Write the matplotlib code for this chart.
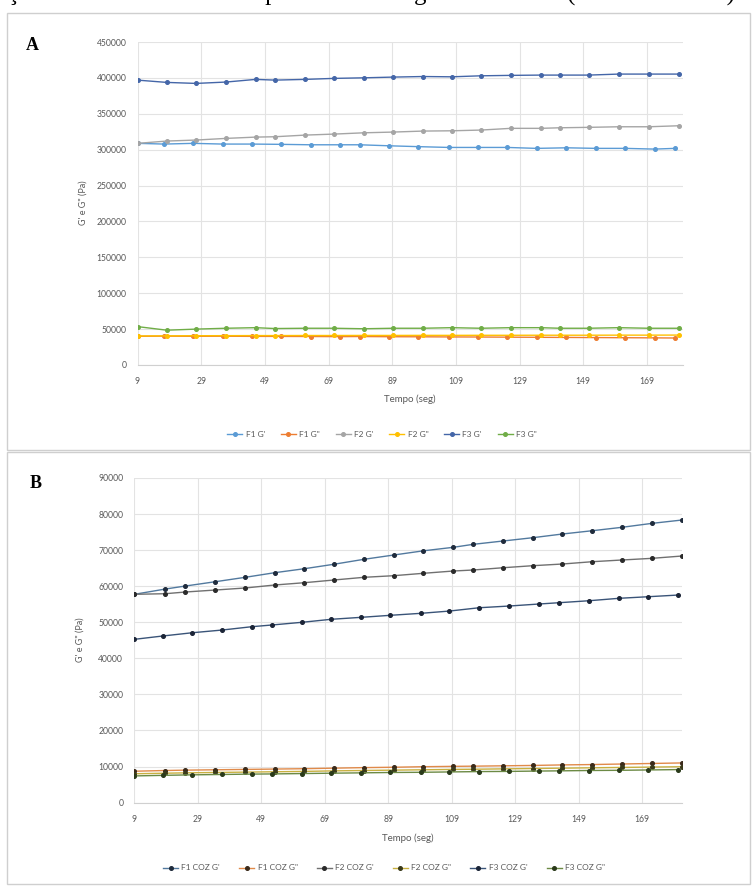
import matplotlib
matplotlib.use('Agg')
import matplotlib.pyplot as plt
from matplotlib.patches import Rectangle

# ---- dados ----
# tempos (seg) de cada serie
tA_f1 = [9, 17.4, 26.5, 35.7, 44.8, 54.2, 63.4, 72.6, 78.8, 88, 97.2, 106.8,
         115.8, 125.1, 134.3, 143.7, 153.1, 162.2, 171.4, 177.7]
tA_f23 = [9, 18.2, 27.4, 36.8, 46.1, 52.2, 61.6, 70.7, 80.1, 89.2, 98.6, 107.7,
          116.8, 126.2, 135.6, 141.6, 150.7, 160.1, 169.5, 178.9]
tB_f12 = [9, 18.8, 25.1, 34.5, 43.9, 53.2, 62.6, 71.8, 81.3, 90.7, 100, 109.5,
          115.8, 125.2, 134.5, 143.9, 153.3, 162.6, 172.2, 181.6]
tB_f3 = [9, 17.9, 27.3, 36.7, 46, 52.3, 61.7, 71, 80.5, 89.7, 99.3, 108.2,
         117.7, 127.1, 136.5, 142.8, 152.3, 161.7, 170.9, 180.4]

# painel A
f1_g1 = [308800, 307800, 308800, 307800, 307800, 307400, 306800, 306800, 306800, 305400,
         304200, 303100, 303100, 303100, 301800, 302600, 301800, 301800, 300800, 301800]
f1_g2 = [40000, 40200, 40000, 40100, 39900, 39800, 39700, 39500, 39700, 39400,
         39300, 39100, 39000, 38800, 38600, 38400, 38200, 38000, 37800, 37600]
f2_g1 = [308800, 312000, 313400, 315700, 317500, 318000, 320300, 321700, 323500, 324500,
         325900, 326300, 327300, 329700, 329700, 330500, 331100, 331900, 331900, 333300]
f2_g2 = [40500, 40600, 40800, 40900, 41000, 41000, 41100, 41100, 41200, 41200,
         41300, 41300, 41400, 41400, 41500, 41500, 41500, 41600, 41600, 41700]
f3_g1 = [396900, 393700, 392300, 394200, 397900, 396900, 397900, 399300, 400100, 401100,
         401900, 401500, 402900, 403500, 403900, 403900, 403900, 405300, 405300, 405300]
f3_g2 = [53500, 48500, 50000, 51200, 52000, 50800, 51200, 51200, 50500, 51200,
         51200, 52000, 51200, 52000, 52000, 51200, 51200, 52000, 51200, 51200]

# painel B (cozido)
f1c_g1 = [57750, 59220, 60050, 61240, 62460, 63740, 64850, 66070, 67450, 68640,
          69800, 70780, 71610, 72530, 73440, 74470, 75380, 76320, 77430, 78350]
f1c_g2 = [8700, 8900, 9000, 9100, 9200, 9300, 9400, 9550, 9700, 9800,
          9950, 10050, 10100, 10200, 10300, 10450, 10550, 10700, 10850, 11000]
f2c_g1 = [57750, 57920, 58390, 58940, 59500, 60330, 60970, 61710, 62460, 62910,
          63570, 64210, 64490, 65120, 65680, 66150, 66790, 67260, 67730, 68370]
f2c_g2 = [8000, 8150, 8250, 8350, 8450, 8550, 8650, 8800, 8900, 9000,
          9100, 9200, 9250, 9350, 9450, 9550, 9650, 9750, 9850, 9950]
f3c_g1 = [45270, 46190, 47100, 47850, 48770, 49240, 49980, 50820, 51370, 51930,
          52480, 53100, 54030, 54500, 55060, 55420, 55970, 56640, 57080, 57550]
f3c_g2 = [7400, 7550, 7700, 7800, 7900, 7950, 8050, 8150, 8250, 8350,
          8400, 8500, 8600, 8650, 8750, 8800, 8900, 8950, 9050, 9150]

xticks = [9, 29, 49, 69, 89, 109, 129, 149, 169]

W, H = 756, 886
fig = plt.figure(figsize=(W / 100, H / 100), dpi=100)
plt.rcParams['font.family'] = ['Lato', 'DejaVu Sans']

def fx(px):
    return px / W

def fy(py):
    return 1 - py / H

GRAY = '#595959'

def style(ax, xmax, ymax, ystep):
    ax.set_xlim(9, xmax)
    ax.set_ylim(0, ymax)
    ax.set_xticks(xticks)
    ax.set_yticks(range(0, ymax + 1, ystep))
    ax.grid(True, color='#E3E3E3', lw=0.8)
    ax.set_axisbelow(True)
    for s in ['top', 'right', 'left']:
        ax.spines[s].set_visible(False)
    ax.spines['bottom'].set_color('#D0D0D0')
    ax.tick_params(length=0, labelsize=6.2, labelcolor=GRAY)
    ax.tick_params(axis='y', pad=8)
    ax.tick_params(axis='x', pad=9)

# caixas dos paineis
fig.patches.append(Rectangle((fx(7), fy(450)), fx(743), 437 / H, transform=fig.transFigure,
                             fill=False, ec='#CFCFCF', lw=1))
fig.patches.append(Rectangle((fx(7), fy(884)), fx(743), 432 / H, transform=fig.transFigure,
                             fill=False, ec='#CFCFCF', lw=1))

# legenda da pagina, cortada no topo (como na imagem original)
fig.text(fx(-45), fy(1), "Variação de G' e G\" com o tempo de ensaio e gel das massas (cruas e cozidas)",
         family='Liberation Serif', fontsize=18, va='baseline', ha='left', color='black')

# ---- painel A ----
axA = fig.add_axes([fx(137.5), fy(365), fx(683 - 137.5), (365 - 42) / H])
style(axA, 180.3, 450000, 50000)
seriesA = [
    (tA_f1, f1_g1, "F1 G'", '#5B9BD5'),
    (tA_f1, f1_g2, 'F1 G"', '#ED7D31'),
    (tA_f23, f2_g1, "F2 G'", '#A5A5A5'),
    (tA_f23, f2_g2, 'F2 G"', '#FFC000'),
    (tA_f23, f3_g1, "F3 G'", '#4466A8'),
    (tA_f23, f3_g2, 'F3 G"', '#70AD47'),
]
for t, v, lab, c in seriesA:
    axA.plot(t, v, color=c, lw=1.0, marker='o', ms=2.6, mec=c, mfc=c, label=lab)
fig.text(fx(410), fy(399), 'Tempo (seg)', ha='center', va='center', fontsize=7, color=GRAY)
fig.text(fx(83), fy(203), 'G\' e G" (Pa)', ha='center', va='center', rotation=90,
         fontsize=6.5, color=GRAY)
fig.text(fx(32), fy(46), 'A', family='Liberation Serif', weight='bold', fontsize=13,
         ha='center', va='center')
axA.legend(loc='center', bbox_to_anchor=(fx(382), fy(434)), bbox_transform=fig.transFigure,
           ncol=6, frameon=False, fontsize=6, handlelength=1.8, handletextpad=0.4,
           columnspacing=1.9, labelcolor=GRAY)

# ---- painel B ----
axB = fig.add_axes([fx(134.4), fy(802.6), fx(682 - 134.4), (802.6 - 478) / H])
style(axB, 181.6, 90000, 10000)
seriesB = [
    (tB_f12, f1c_g1, "F1 COZ G'", '#52799E', '#1F2B3C'),
    (tB_f12, f1c_g2, 'F1 COZ G"', '#E08A4A', '#3A2A1A'),
    (tB_f12, f2c_g1, "F2 COZ G'", '#707070', '#2A2A2A'),
    (tB_f12, f2c_g2, 'F2 COZ G"', '#C8B040', '#3A3A1A'),
    (tB_f3, f3c_g1, "F3 COZ G'", '#3A5478', '#1B2436'),
    (tB_f3, f3c_g2, 'F3 COZ G"', '#6C8A45', '#2A3A1A'),
]
for t, v, lab, c, mc in seriesB:
    axB.plot(t, v, color=c, lw=1.0, marker='o', ms=2.6, mec=mc, mfc=mc, label=lab)
fig.text(fx(408), fy(838), 'Tempo (seg)', ha='center', va='center', fontsize=7, color=GRAY)
fig.text(fx(80), fy(640), 'G\' e G" (Pa)', ha='center', va='center', rotation=90,
         fontsize=6.5, color=GRAY)
fig.text(fx(36), fy(483), 'B', family='Liberation Serif', weight='bold', fontsize=13,
         ha='center', va='center')
axB.legend(loc='center', bbox_to_anchor=(fx(384), fy(868)), bbox_transform=fig.transFigure,
           ncol=6, frameon=False, fontsize=6, handlelength=1.8, handletextpad=0.4,
           columnspacing=2.3, labelcolor=GRAY)

fig.savefig('out.png', dpi=100)
